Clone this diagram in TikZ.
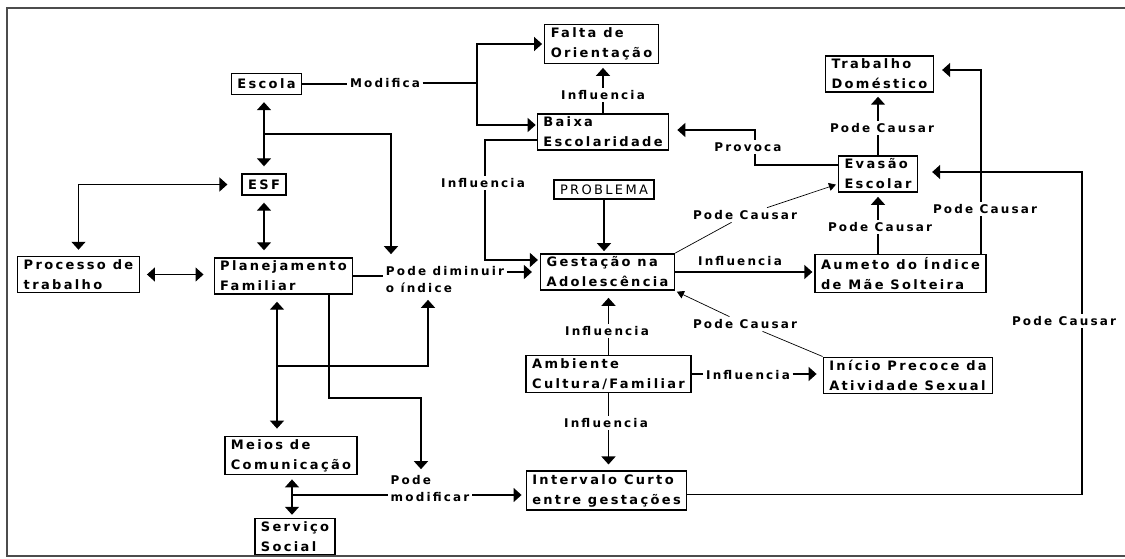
\documentclass[tikz,border=0pt]{standalone}
\usepackage{fontspec}
\setmainfont{DejaVu Sans}[LetterSpace=18]
\usetikzlibrary{arrows.meta}
\begin{document}
\begin{tikzpicture}[x=1pt,y=-1pt,line width=1.4pt,>={Triangle[length=8pt,width=14pt]},
 font=\bfseries\fontsize{13}{20}\selectfont,
 box/.style={draw,align=left,inner xsep=6pt,inner ysep=3pt,minimum height=21pt},
 lbl/.style={font=\bfseries\fontsize{12}{17}\selectfont,inner sep=2pt,align=left},
 link/.style={->,shorten >=4pt},
 dlink/.style={<->,shorten >=7pt,shorten <=7pt},
 thinlink/.style={->,line width=.7pt,shorten >=2pt,>={Triangle[length=7pt,width=8pt]}}]
\useasboundingbox (0,0) rectangle (1125,559);
\draw[black!70,line width=1.2pt] (1125,8) -- (7,8) -- (7,556) -- (1125,556);
\node[box] (escola) at (266.5,84) {Escola};
\node[box] (esf) at (264,184.5) {ESF};
\node[box] (proc) at (78.5,274.5) {Processo de\\trabalho};
\node[box] (plan) at (283.5,276) {Planejamento\\Familiar};
\node[box] (meios) at (291,455.5) {Meios de\\Comunicação};
\node[box] (serv) at (295,536.5) {Serviço\\Social};
\node[box] (falta) at (601.5,44) {Falta de\\Orientação};
\node[box] (baixa) at (603,132) {Baixa\\Escolaridade};
\node[box,font=\mdseries\fontsize{13}{20}\selectfont,minimum height=19pt] (probl) at (604,189.5) {PROBLEMA};
\node[box] (gest) at (607.5,272) {Gestação na\\Adolescência};
\node[box] (amb) at (608.5,374) {Ambiente\\Cultura/Familiar};
\node[box] (interv) at (606.5,490.5) {Intervalo Curto\\entre gestações};
\node[box] (trab) at (879.5,74) {Trabalho\\Doméstico};
\node[box] (evasao) at (878,174) {Evasão\\Escolar};
\node[box] (aumeto) at (900.5,273.5) {Aumeto do Índice\\de Mãe Solteira};
\node[box] (inicio) at (908,375.5) {Início Precoce da\\Atividade Sexual};
\node[lbl] (lMod) at (385,83) {Modifica};
\node[lbl] (lInfF) at (603,95) {Influencia};
\node[lbl] (lInfB) at (483,183) {Influencia};
\node[lbl] (lDim) at (445,280) {Pode diminuir\\o índice};
\node[lbl] (lPodeM) at (430,489) {Pode\\modificar};
\node[lbl] (lCausEv) at (745,215) {Pode Causar};
\node[lbl] (lInfA) at (740,261) {Influencia};
\node[lbl] (lCausG) at (745,324) {Pode Causar};
\node[lbl] (lInfG) at (607,331) {Influencia};
\node[lbl] (lInfI) at (748,375) {Influencia};
\node[lbl] (lInfC) at (606,423) {Influencia};
\node[lbl] (lCausE) at (880,227) {Pode Causar};
\node[lbl] (lCausT) at (985,209) {Pode Causar};
\node[lbl] (lCausD) at (882,128) {Pode Causar};
\node[lbl] (lProv) at (748,147) {Provoca};
\node[lbl] (lCausR) at (1064,321) {Pode Causar};
\coordinate (jMod) at (477,83);
\coordinate (jEsc) at (264,134);
\coordinate (jDim) at (391,134);
\coordinate (jInfB) at (485,140);
\coordinate (jPlan) at (277,366);
\coordinate (jInd) at (428,366);
\coordinate (jPlB) at (329,398);
\coordinate (jMd) at (421,398);
\coordinate (jMs) at (292,495);
\coordinate (jProv) at (755,130);
\coordinate (jTrab) at (981,70);
\coordinate (jEv) at (1082,172);
\draw (escola.east) -- (escola.east -| lMod.west);
\draw (lMod.east) -- (jMod);
\draw[link,shorten >=2pt] (jMod) |- (falta.west);
\draw[link,shorten >=1pt] (jMod) |- ([yshift=7pt]baixa.west);
\draw[dlink] (escola.south -| jEsc) -- (esf.north -| jEsc);
\draw[link,shorten >=10pt] (jEsc) -- (jDim) -- (jDim |- lDim.north);
\draw[dlink,shorten <=14pt,shorten >=6pt] (esf.west) -| (proc.north);
\draw[dlink] (esf.south) -- (esf.south |- plan.north);
\draw[dlink,shorten <=7pt,shorten >=10pt] (proc.east) -- (proc.east -| plan.west);
\draw (plan.east) -- (plan.east -| lDim.west);
\draw[link,shorten >=8pt] (lDim.east |- gest.west) -- (gest.west);
\draw[dlink] (plan.south -| jPlan) -- (meios.north -| jPlan);
\draw[link] (jPlan) -- (jInd) -- (jInd |- lDim.south);
\draw[link] (plan.south -| jPlB) -- (jPlB) -- (jMd) -- (jMd |- lPodeM.north);
\draw[dlink,shorten <=4pt,shorten >=3pt] (meios.south -| jMs) -- (serv.north -| jMs);
\draw (jMs) -- (jMs -| lPodeM.west);
\draw[link] (lPodeM.east |- jMs) -- (jMs -| interv.west);
\draw (baixa.north) -- (baixa.north |- lInfF.south);
\draw[link] (lInfF.north) -- (lInfF.north |- falta.south);
\draw ([yshift=-8pt]baixa.west) -- (jInfB) -- (jInfB |- lInfB.north);
\draw[link,shorten >=2pt] (jInfB |- lInfB.south) |- ([yshift=12pt]gest.west);
\draw[link,shorten >=2pt] (probl.south) -- (probl.south |- gest.north);
\draw[line width=.7pt] (gest.north east) -- (lCausEv);
\draw[thinlink] (lCausEv) -- ([yshift=-10pt]evasao.west);
\draw[link,shorten >=2pt] (gest.east) -- (gest.east -| aumeto.west);
\draw[line width=.7pt] (inicio.north west) -- (lCausG);
\draw[thinlink] (lCausG) -- (gest.south east);
\draw (amb.north) -- (amb.north |- lInfG.south);
\draw[link,shorten >=7pt] (amb.north |- lInfG.north) -- (amb.north |- gest.south);
\draw (amb.east) -- (amb.east -| lInfI.west);
\draw[link,shorten >=6pt] (lInfI.east |- amb.east) -- (amb.east -| inicio.west);
\draw (amb.south) -- (amb.south |- lInfC.north);
\draw[link,shorten >=6pt] (amb.south |- lInfC.south) -- (amb.south |- interv.north);
\draw (evasao.north) -- (evasao.north |- lCausD.south);
\draw[link] (evasao.north |- lCausD.north) -- (evasao.north |- trab.south);
\draw (aumeto.north -| evasao) -- (evasao |- lCausE.south);
\draw[link] (evasao |- lCausE.north) -- (evasao.south);
\draw (aumeto.north -| jTrab) -- (jTrab |- lCausT.south);
\draw[link,shorten >=8pt] (jTrab |- lCausT.north) -- (jTrab) -- (jTrab -| trab.east);
\draw ([yshift=9pt]evasao.west) -| (jProv |- lProv.south);
\draw[link,shorten >=8pt] (jProv |- lProv.north) -- (jProv) -- (jProv -| baixa.east);
\draw ([yshift=-4pt]interv.east) -| (jEv |- lCausR.south);
\draw[link,shorten >=14pt] (jEv |- lCausR.north) -- (jEv) -- (jEv -| evasao.east);
\end{tikzpicture}
\end{document}
